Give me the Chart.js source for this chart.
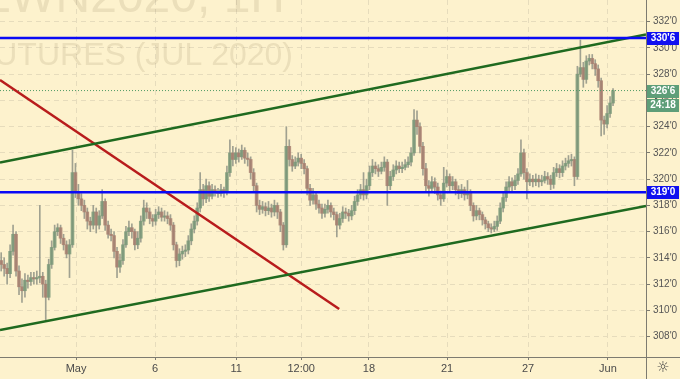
<!DOCTYPE html>
<html><head><meta charset="utf-8">
<script src="https://cdn.jsdelivr.net/npm/chart.js@4.4.1/dist/chart.umd.min.js"></script>
<style>html,body{margin:0;padding:0;background:#fdf2cd;}canvas{display:block;}</style>
</head><body>
<canvas id="c" width="680" height="379"></canvas>
<script>
// ---- data (2h OHLC bars, cents/bushel) ----
const opens=[313.8,313.5,313.2,312.8,314.5,315.8,313.0,311.8,311.5,312.3,
312.2,312.5,312.4,312.5,312.6,312.0,311.0,313.5,314.8,316.0,
316.3,315.5,315.0,314.3,315.0,320.5,319.0,318.5,318.0,317.5,
316.8,316.5,317.5,316.5,317.2,318.3,316.5,315.8,315.7,314.5,
313.3,313.8,315.0,316.0,316.3,316.0,315.0,315.5,316.8,317.8,
317.5,317.0,316.8,317.3,317.5,317.1,317.2,317.0,316.5,315.0,
313.8,314.3,314.5,314.6,315.3,316.2,316.8,317.8,319.2,318.5,
319.5,318.7,319.2,319.0,318.9,319.2,319.0,320.5,322.0,321.5,
322.0,321.7,322.2,321.6,321.5,320.5,319.5,318.0,317.7,317.9,
317.6,317.8,317.5,318.0,317.5,316.5,315.0,322.5,321.5,321.0,
321.3,321.6,321.2,320.8,319.3,318.4,318.8,318.1,317.8,317.4,
317.7,318.0,317.5,317.3,316.5,317.0,317.5,317.4,317.2,317.6,
318.3,318.8,319.2,318.8,319.5,320.5,321.0,320.8,320.6,320.9,
321.3,319.5,320.2,320.7,321.0,320.8,320.9,321.1,321.3,322.0,
324.5,324.0,322.5,320.8,319.5,319.3,319.8,319.4,318.8,318.5,
319.7,320.2,319.5,319.8,319.2,318.9,319.2,318.8,319.0,318.0,
317.2,317.6,317.3,316.9,316.6,316.3,316.2,316.4,316.8,317.8,
318.6,319.4,319.8,319.5,319.9,320.4,322.0,320.5,319.8,320.0,
319.8,320.0,319.8,319.9,320.2,320.0,319.6,320.5,320.8,320.5,
321.0,321.2,321.4,321.5,320.2,328.0,328.5,327.6,329.0,329.2,
328.8,328.4,327.5,324.5,324.2,325.0,325.8];
const highs=[314.4,314.0,313.6,315.0,316.5,316.0,313.4,312.4,312.8,312.7,
312.9,312.9,313.0,318.0,312.9,312.3,313.9,315.3,316.5,316.6,
316.5,315.8,315.3,315.4,322.2,321.2,319.6,318.9,318.4,317.8,
317.1,318.0,317.8,317.6,319.2,318.5,316.8,316.2,316.0,314.8,
314.3,315.4,316.4,316.8,316.6,316.2,316.0,317.2,318.4,318.2,
317.8,317.3,317.7,317.9,317.8,317.6,317.5,317.3,316.7,315.2,
314.7,314.9,315.0,315.7,316.6,317.2,318.2,320.5,319.6,320.0,
319.8,319.6,319.5,319.3,319.6,319.4,321.0,323.0,322.5,322.4,
322.3,322.6,322.4,322.0,321.7,320.8,319.7,318.4,318.3,318.2,
318.3,318.1,318.4,318.2,317.7,316.7,324.0,323.0,321.8,321.7,
322.0,321.9,321.5,321.0,319.6,319.3,319.0,318.4,318.1,318.1,
318.4,318.2,317.8,317.5,317.4,317.9,317.8,317.7,318.0,318.7,
319.2,319.6,320.5,320.0,321.0,321.5,321.3,321.1,321.3,321.7,
321.5,320.6,321.1,321.4,321.3,321.3,321.5,321.7,322.4,325.3,
325.2,324.3,322.8,321.2,319.9,320.2,320.1,319.7,319.1,320.9,
320.7,320.4,320.2,320.0,319.5,319.6,319.4,319.9,319.2,318.2,
318.0,317.8,317.5,317.1,316.8,316.6,316.8,317.2,318.2,319.0,
319.8,320.2,320.1,320.3,320.8,323.0,322.3,320.8,320.4,320.3,
320.4,320.3,320.3,320.6,320.5,320.3,320.9,321.2,321.1,321.4,
321.6,321.8,321.9,321.7,328.6,330.6,328.9,329.4,329.5,329.5,
329.1,328.7,327.7,324.8,325.6,326.3,326.9];
const lows=[313.0,312.6,312.0,312.5,314.2,312.6,311.2,310.6,311.0,311.7,
311.9,312.0,312.0,312.1,311.0,309.3,310.8,313.2,314.6,315.7,
315.1,314.6,314.0,312.5,314.8,318.6,318.0,317.6,317.0,316.2,
316.0,316.2,315.9,316.2,317.0,316.1,315.5,315.3,314.0,312.5,
312.9,313.5,314.8,315.7,315.5,314.6,314.7,315.2,316.5,317.0,
316.6,316.4,316.5,317.0,316.8,316.8,316.6,316.1,314.6,313.3,
313.4,313.9,314.1,314.3,315.0,315.9,316.5,317.5,318.0,318.2,
318.3,318.5,318.7,318.6,318.7,318.6,318.8,320.2,321.0,321.2,
321.3,321.5,321.2,321.0,320.0,319.0,317.5,317.3,317.4,317.2,
317.3,317.1,317.2,317.0,316.0,314.6,314.8,321.0,320.6,320.8,
321.0,320.8,320.4,318.8,318.0,318.1,317.7,317.4,317.0,317.1,
317.4,317.1,316.9,315.6,316.2,316.7,317.0,316.8,316.9,317.3,
318.0,318.5,318.4,318.5,319.2,320.2,320.4,320.2,320.4,320.6,
318.0,319.2,319.9,320.4,320.5,320.5,320.7,320.9,321.0,321.8,
323.4,322.0,320.3,319.0,318.7,319.0,318.9,318.4,318.0,318.3,
319.4,319.1,319.2,318.8,318.5,318.6,318.4,318.5,317.6,316.8,
316.9,316.9,316.5,316.2,316.0,315.9,316.0,316.1,316.6,317.5,
318.3,319.1,319.1,319.2,319.6,320.2,320.0,318.5,319.5,319.4,
319.5,319.4,319.5,319.7,319.6,319.2,319.3,320.2,320.1,320.2,
320.7,320.9,321.0,319.5,320.0,327.8,327.0,327.3,328.7,328.4,
327.9,327.0,323.3,323.4,323.9,324.7,325.6];
const closes=[313.5,313.2,312.8,314.5,315.8,313.0,311.8,311.5,312.3,312.2,
312.5,312.4,312.5,312.6,312.0,311.0,313.5,314.8,316.0,316.3,
315.5,315.0,314.3,315.0,320.5,319.0,318.5,318.0,317.5,316.8,
316.5,317.5,316.5,317.2,318.3,316.5,315.8,315.7,314.5,313.3,
313.8,315.0,316.0,316.3,316.0,315.0,315.5,316.8,317.8,317.5,
317.0,316.8,317.3,317.5,317.1,317.2,317.0,316.5,315.0,313.8,
314.3,314.5,314.6,315.3,316.2,316.8,317.8,319.2,318.5,319.5,
318.7,319.2,319.0,318.9,319.2,319.0,320.5,322.0,321.5,322.0,
321.7,322.2,321.6,321.5,320.5,319.5,318.0,317.7,317.9,317.6,
317.8,317.5,318.0,317.5,316.5,315.0,322.5,321.5,321.0,321.3,
321.6,321.2,320.8,319.3,318.4,318.8,318.1,317.8,317.4,317.7,
318.0,317.5,317.3,316.5,317.0,317.5,317.4,317.2,317.6,318.3,
318.8,319.2,318.8,319.5,320.5,321.0,320.8,320.6,320.9,321.3,
319.5,320.2,320.7,321.0,320.8,320.9,321.1,321.3,322.0,324.5,
324.0,322.5,320.8,319.5,319.3,319.8,319.4,318.8,318.5,319.7,
320.2,319.5,319.8,319.2,318.9,319.2,318.8,319.0,318.0,317.2,
317.6,317.3,316.9,316.6,316.3,316.2,316.4,316.8,317.8,318.6,
319.4,319.8,319.5,319.9,320.4,322.0,320.5,319.8,320.0,319.8,
320.0,319.8,319.9,320.2,320.0,319.6,320.5,320.8,320.5,321.0,
321.2,321.4,321.5,320.2,328.0,328.5,327.6,329.0,329.2,328.8,
328.4,327.5,324.5,324.2,325.0,325.8,326.75];

const xTickPositions=[25.2,51.8,79.1,101.0,123.8,150.1,177.4,204.3];
const xTickLabels=['May','6','11','12:00','18','21','27','Jun'];
const yTickValues=[308,310,312,314,316,318,320,322,324,326,328,330,332];
const levelPrices=[330.75,319];          // blue horizontal levels
const lastPrice=326.75;
const countdownText='24:18';
const upperChannel=[{x:-0.4,y:321.27},{x:217.1,y:331.02}];
const lowerChannel=[{x:-0.4,y:308.51},{x:217.1,y:317.96}];
const redTrend=[{x:-0.4,y:327.56},{x:113.8,y:310.11}];
const X_MIN=-0.4, X_MAX=217.1, Y_MIN=306.45, Y_MAX=333.65;
const watermark1='ZWN2020, 1H';
const watermark2='FUTURES (JUL 2020)';

const BG='#fdf2cd';
function fmt(v){const i=Math.floor(v+1e-9);const e=Math.round((v-i)*8);return i+"'"+e;}

const idx=closes.map((_,i)=>i);
const wickData=idx.map(i=>({x:i,y:[lows[i],highs[i]]}));
const bodyData=idx.map(i=>({x:i,y:[opens[i],closes[i]]}));
const upC='rgba(118,150,118,0.8)', dnC='rgba(165,122,108,0.8)';

const decor={
  id:'decor',
  beforeDraw(ch){const c=ch.ctx;c.save();c.fillStyle=BG;c.fillRect(0,0,ch.width,ch.height);c.restore();},
  beforeDatasetsDraw(ch){
    const c=ch.ctx,a=ch.chartArea;c.save();
    c.beginPath();c.rect(a.left,a.top,a.right-a.left,a.bottom-a.top);c.clip();
    c.fillStyle='rgba(140,125,85,0.16)';
    c.textBaseline='alphabetic';c.textAlign='right';
    c.font='48px "Liberation Sans"';c.fillText(watermark1,285,12);
    c.font='32px "Liberation Sans"';c.fillText(watermark2,293,65);
    c.restore();
  },
  afterDraw(ch){
    const c=ch.ctx,a=ch.chartArea,ys=ch.scales.y;c.save();
    c.strokeStyle='#7d7b70';c.lineWidth=1;
    c.beginPath();c.moveTo(a.right+0.5,0);c.lineTo(a.right+0.5,ch.height);c.stroke();
    c.beginPath();c.moveTo(0,a.bottom+0.5);c.lineTo(ch.width,a.bottom+0.5);c.stroke();
    const tag=(v,txt,col,dy)=>{
      const y=Math.round(ys.getPixelForValue(v))+(dy||0);
      c.fillStyle=col;c.fillRect(a.right+1,y-6,32,13);
      c.fillStyle='#ffffff';c.font='bold 10px "Liberation Sans"';c.textAlign='center';c.textBaseline='middle';
      c.fillText(txt,a.right+17,y+0.5);
    };
    levelPrices.forEach(p=>tag(p,fmt(p),'#1010f0'));
    tag(lastPrice,fmt(lastPrice),'#5e9e78');
    tag(lastPrice,countdownText,'#5e9e78',14);
    c.fillStyle='#444';c.font='15px "DejaVu Sans"';c.textAlign='center';c.textBaseline='middle';
    c.fillText('☼',663,368);
    c.restore();
  }
};

const lineDs=(data,color,w,order,dash)=>({type:'line',data,borderColor:color,borderWidth:w,pointRadius:0,tension:0,order,borderDash:dash||[],fill:false});

new Chart(document.getElementById('c'),{
  type:'bar',
  data:{datasets:[
    lineDs([{x:X_MIN,y:levelPrices[0]},{x:X_MAX,y:levelPrices[0]}],'#0a0af5',2.5,1),
    lineDs([{x:X_MIN,y:levelPrices[1]},{x:X_MAX,y:levelPrices[1]}],'#0a0af5',2.5,1),
    lineDs(upperChannel,'#1f6a1f',2.5,2),
    lineDs(lowerChannel,'#1f6a1f',2.5,2),
    lineDs(redTrend,'#b81c1c',2.5,2),
    lineDs([{x:X_MIN,y:lastPrice},{x:X_MAX,y:lastPrice}],'#4f9a66',1,3,[1,2]),
    {type:'bar',data:bodyData,grouped:false,barThickness:3,order:10,
      backgroundColor:ctx=>{const i=ctx.dataIndex;return closes[i]>=opens[i]?upC:dnC;}},
    {type:'bar',data:wickData,grouped:false,barThickness:1,order:11,backgroundColor:'rgba(150,152,138,0.9)'}
  ]},
  options:{
    responsive:false,animation:false,devicePixelRatio:1,
    layout:{padding:0},
    plugins:{legend:{display:false},tooltip:{enabled:false}},
    scales:{
      x:{type:'linear',min:X_MIN,max:X_MAX,offset:false,
        afterBuildTicks:s=>{s.ticks=xTickPositions.map(v=>({value:v}));},
        afterFit:s=>{s.height=22;s.paddingLeft=0;s.paddingRight=0;},
        ticks:{autoSkip:false,maxRotation:0,padding:2,color:'#4a4a4a',font:{family:'Liberation Sans',size:11},
          callback:(v,i)=>xTickLabels[i]},
        grid:{offset:false,color:'#e6dcbc',lineWidth:1,drawTicks:true,tickLength:3,tickColor:'#7d7b70',tickBorderDash:[]},
        border:{display:true,color:'#7d7b70',dash:[5,4]}
      },
      y:{type:'linear',position:'right',min:Y_MIN,max:Y_MAX,
        afterBuildTicks:s=>{s.ticks=yTickValues.map(v=>({value:v}));},
        afterFit:s=>{s.width=34;s.paddingTop=0;s.paddingBottom=0;},
        ticks:{padding:3,color:'#555',font:{family:'Liberation Sans',size:10},callback:v=>fmt(v)},
        grid:{offset:false,color:'#e6dcbc',lineWidth:1,drawTicks:true,tickLength:4,tickColor:'#7d7b70',tickBorderDash:[]},
        border:{display:true,color:'#7d7b70',dash:[5,4]}
      }
    }
  },
  plugins:[decor]
});
</script>
</body></html>
